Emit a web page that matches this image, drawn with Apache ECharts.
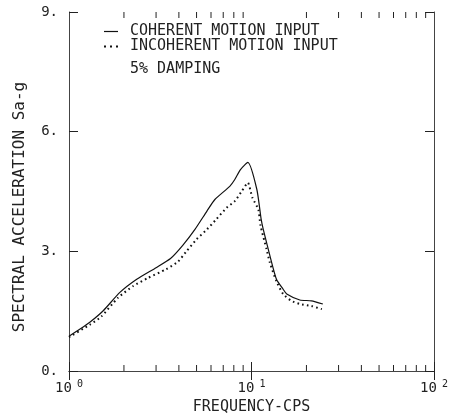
<!DOCTYPE html>
<html><head><meta charset="utf-8">
<script src="https://cdn.jsdelivr.net/npm/echarts@6/dist/echarts.min.js"></script>
<style>html,body{margin:0;padding:0;background:#fff}#c{width:452px;height:420px}</style>
</head><body><div id="c"></div>
<script>
// Data (frequency in CPS, spectral acceleration in g)
const coherentFreq = [1.0, 1.15, 1.3, 1.54, 1.9, 2.35, 3.0, 3.6, 4.2, 4.9, 5.7, 6.3, 7.6, 8.1, 8.7, 9.55, 10.7, 11.3, 11.6, 12.6, 13.7, 14.9, 15.6, 18.4, 21.3, 24.6];
const coherentSa   = [0.87, 1.05, 1.22, 1.51, 1.97, 2.30, 2.59, 2.82, 3.15, 3.55, 4.01, 4.30, 4.63, 4.80, 5.05, 5.23, 4.55, 3.80, 3.55, 2.90, 2.30, 2.05, 1.93, 1.78, 1.76, 1.68];
const incoherentFreq = [1.0, 1.3, 1.5, 1.86, 2.25, 2.7, 3.4, 3.95, 4.4, 5.0, 5.7, 6.4, 7.3, 8.1, 8.85, 9.55, 10.1, 10.9, 11.2, 12.1, 12.6, 13.7, 14.9, 16.5, 18.4, 21.3, 24.3];
const incoherentSa   = [0.85, 1.16, 1.36, 1.84, 2.13, 2.33, 2.55, 2.74, 3.00, 3.30, 3.55, 3.80, 4.09, 4.26, 4.51, 4.72, 4.35, 4.05, 3.65, 3.05, 2.72, 2.25, 1.93, 1.76, 1.68, 1.63, 1.55];
const seriesNames = ['COHERENT MOTION INPUT', 'INCOHERENT MOTION INPUT'];
const yTicks = [0, 3, 6, 9];
const xMinorTicks = [2, 3, 4, 5, 6, 7, 8, 9, 20, 30, 40, 50, 60, 70, 80, 90];
const noteText = '5% DAMPING';
const xTitle = 'FREQUENCY-CPS';
const yTitle = 'SPECTRAL ACCELERATION Sa-g';

const FONT = 'DejaVu Sans Mono';
const INK = '#222';
const pair = (xs, ys) => xs.map((x, i) => [x, ys[i]]);

const chart = echarts.init(document.getElementById('c'), null, {renderer: 'canvas'});
const axisLine = {show: true, lineStyle: {color: '#444', width: 1}};
const solidIcon = 'path://M0,0h14v1.2h-14z';
const dotIcon = 'path://M0,0h2v2h-2z M6,0h2v2h-2z M12,0h2v2h-2z';
chart.setOption({
  backgroundColor: '#fff',
  animation: false,
  grid: {left: 69, right: 18, top: 12, bottom: 48, containLabel: false},
  legend: {
    orient: 'vertical', left: 104, top: 24, padding: 0,
    itemWidth: 14, itemHeight: 2, itemGap: 0,
    textStyle: {fontFamily: FONT, fontSize: 15, color: INK, lineHeight: 14, padding: [0, 0, 0, 7]},
    data: [
      {name: seriesNames[0], icon: solidIcon, itemStyle: {color: '#111'}},
      {name: seriesNames[1], icon: dotIcon, itemStyle: {color: '#111'}}
    ]
  },
  graphic: [
    {type: 'text', left: 130, top: 62, style: {text: noteText, font: '15px "' + FONT + '"', fill: INK}},
    {type: 'text', x: 20, y: 207, rotation: Math.PI / 2,
     style: {text: yTitle, font: '16px "' + FONT + '"', fill: INK, align: 'center', verticalAlign: 'middle'}}
  ],
  xAxis: [
    {type: 'log', logBase: 10, min: 1, max: 100, position: 'bottom',
     axisLine: axisLine, splitLine: {show: false},
     axisTick: {show: true, inside: true, length: 9, lineStyle: {color: INK}},
     axisLabel: {
       margin: 8, color: INK,
       formatter: v => '{b|10}{s|' + Math.round(Math.log10(v)) + '}',
       rich: {
         b: {fontFamily: FONT, fontSize: 14, color: INK},
         s: {fontFamily: FONT, fontSize: 10, color: INK, padding: [0, 0, 8, 5]}
       }
     },
     name: xTitle, nameLocation: 'middle', nameGap: 29,
     nameTextStyle: {fontFamily: FONT, fontSize: 15, color: INK}
    },
    {type: 'log', logBase: 10, min: 1, max: 100, position: 'top',
     axisLine: axisLine, splitLine: {show: false},
     axisTick: {show: true, inside: true, length: 9, lineStyle: {color: INK}},
     axisLabel: {show: false}}
  ],
  yAxis: [
    {type: 'value', min: 0, max: 9, interval: 3, position: 'left',
     axisLine: axisLine, splitLine: {show: false},
     axisTick: {show: true, inside: true, length: 9, lineStyle: {color: INK}},
     axisLabel: {margin: 11, fontFamily: FONT, fontSize: 14, color: INK, formatter: v => v + '.'}},
    {type: 'value', min: 0, max: 9, interval: 3, position: 'right',
     axisLine: axisLine, splitLine: {show: false},
     axisTick: {show: true, inside: true, length: 9, lineStyle: {color: INK}},
     axisLabel: {show: false}}
  ],
  series: [
    {name: seriesNames[0], type: 'line', data: pair(coherentFreq, coherentSa),
     symbol: 'none', smooth: 0.2, lineStyle: {color: '#111', width: 1.2, type: 'solid'},
     itemStyle: {color: '#111'}},
    {name: seriesNames[1], type: 'line', data: pair(incoherentFreq, incoherentSa),
     symbol: 'none', smooth: 0.2, lineStyle: {color: '#111', width: 2, type: [1.6, 3.2]},
     itemStyle: {color: '#111'}},
    {type: 'custom', silent: true, data: xMinorTicks.map(v => [v, 0]),
     encode: {x: 0, y: 1},
     renderItem: (params, api) => {
       const v = api.value(0);
       const b = api.coord([v, yTicks[0]]);
       const t = api.coord([v, yTicks[yTicks.length - 1]]);
       const st = {stroke: INK, lineWidth: 1};
       return {type: 'group', children: [
         {type: 'line', shape: {x1: b[0], y1: b[1], x2: b[0], y2: b[1] - 6}, style: st},
         {type: 'line', shape: {x1: t[0], y1: t[1], x2: t[0], y2: t[1] + 6}, style: st}
       ]};
     }}
  ]
});
</script></body></html>
